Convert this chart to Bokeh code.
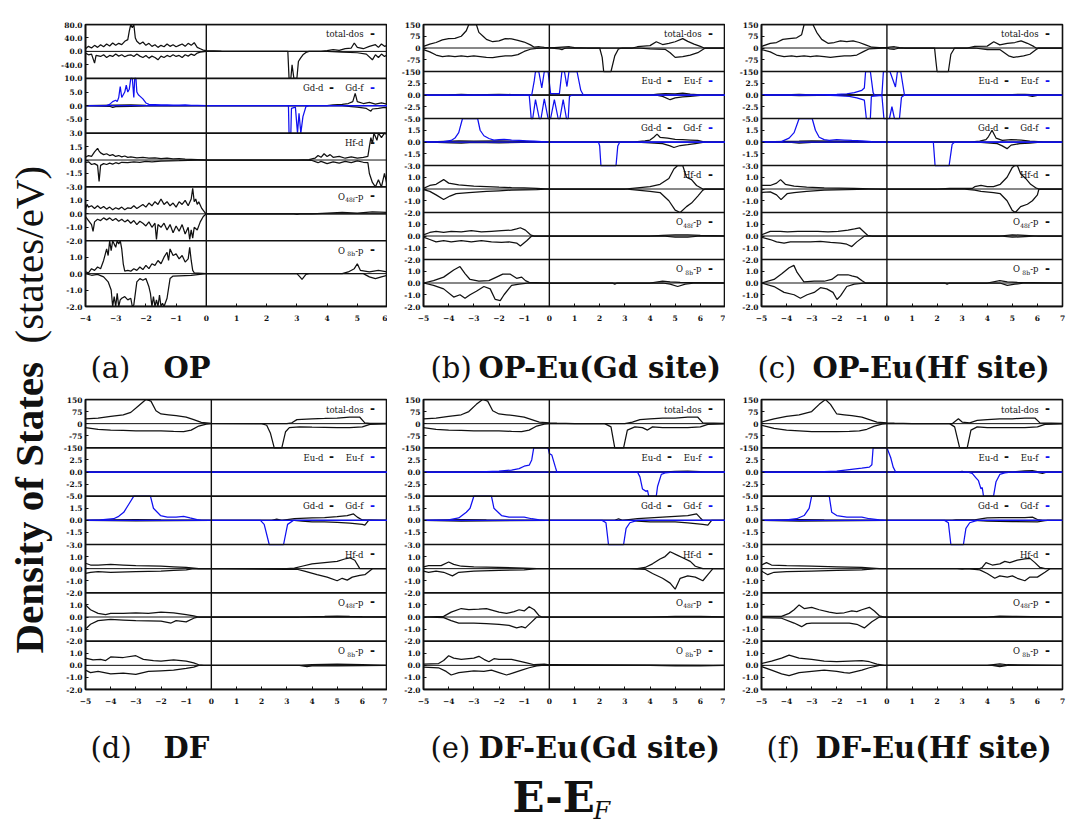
import numpy as np
from bokeh.plotting import figure
from bokeh.models import Range1d, FixedTicker, Span, Label
from bokeh.layouts import row, column
from bokeh.embed import file_html
from bokeh.resources import INLINE

# ===================== DATA: (E - E_F [eV], DOS [states/eV]) =====================
# ---- (a) OP ----
A_TOT_UP = [(-4.0, 8), (-3.9, 15), (-3.8, 10), (-3.7, 18), (-3.6, 12), (-3.5, 20), (-3.4, 14), (-3.3, 22), (-3.2, 16),
            (-3.1, 25), (-3.0, 18), (-2.9, 24), (-2.8, 20), (-2.7, 30), (-2.6, 35), (-2.55, 60), (-2.5, 95), (-2.45, 70),
            (-2.4, 95), (-2.35, 40), (-2.3, 30), (-2.2, 22), (-2.1, 28), (-2.0, 18), (-1.9, 24), (-1.8, 15), (-1.7, 20),
            (-1.6, 12), (-1.5, 18), (-1.4, 14), (-1.3, 22), (-1.2, 15), (-1.1, 20), (-1.0, 14), (-0.9, 18), (-0.8, 22),
            (-0.7, 15), (-0.6, 24), (-0.5, 18), (-0.4, 26), (-0.3, 12), (-0.2, 8), (-0.1, 4), (0.0, 2), (0.5, 0.5), (1.0, 0),
            (3.8, 0), (4.0, 2), (4.2, 5), (4.4, 3), (4.6, 8), (4.8, 10), (4.9, 25), (5.0, 12), (5.2, 8), (5.4, 15),
            (5.6, 20), (5.7, 12), (5.8, 22), (5.9, 15), (6.0, 18)]
A_TOT_DN = [(-4.0, -5), (-3.9, -10), (-3.8, -8), (-3.7, -35), (-3.65, -12), (-3.5, -15), (-3.4, -10), (-3.3, -18),
            (-3.2, -12), (-3.1, -15), (-3.0, -8), (-2.9, -14), (-2.8, -10), (-2.7, -16), (-2.6, -12), (-2.5, -10),
            (-2.4, -15), (-2.3, -8), (-2.2, -14), (-2.1, -18), (-2.0, -12), (-1.9, -20), (-1.8, -14), (-1.7, -18),
            (-1.6, -25), (-1.5, -14), (-1.4, -18), (-1.3, -12), (-1.2, -16), (-1.1, -10), (-1.0, -15), (-0.9, -12),
            (-0.8, -18), (-0.7, -10), (-0.6, -14), (-0.5, -8), (-0.4, -12), (-0.3, -5), (-0.2, -2), (0.0, 0), (2.7, 0),
            (2.74, -90), (2.8, -90), (2.84, -40), (2.9, -90), (3.0, -90), (3.05, -30), (3.12, -20), (3.2, -10),
            (3.3, -3), (3.4, 0), (4.0, 0), (4.5, -2), (5.0, -4), (5.3, -8), (5.5, -25), (5.6, -10), (5.7, -18),
            (5.8, -8), (5.9, -15), (6.0, -10)]
A_GDF_UP = [(-4.0, 0), (-3.3, 0.05), (-3.2, 0.5), (-3.1, 1.5), (-3.0, 2.0), (-2.95, 1.5), (-2.9, 3), (-2.85, 7),
            (-2.8, 3), (-2.75, 4), (-2.7, 5), (-2.65, 7.5), (-2.6, 5), (-2.55, 6), (-2.5, 11), (-2.45, 11), (-2.4, 3),
            (-2.37, 11), (-2.33, 11), (-2.3, 5), (-2.25, 4), (-2.2, 3.5), (-2.1, 2.5), (-2.0, 1.0), (-1.9, 0.5),
            (-1.7, 0.4), (-1.5, 0.3), (-1.3, 0.3), (-1.1, 0.2), (-0.9, 0.25), (-0.7, 0.3), (-0.5, 0.15), (-0.3, 0.1),
            (0.0, 0), (6.0, 0)]
A_GDF_DN = [(-4.0, 0), (2.72, 0), (2.74, -11), (2.8, -11), (2.82, -1), (2.95, -0.5), (3.02, -11), (3.07, -2.75),
            (3.13, -11), (3.2, -4), (3.3, -0.3), (3.4, 0), (6.0, 0)]
A_GDD_UP = [(-4.0, 0), (-3.5, 0.1), (-3.0, 0.2), (-2.5, 0.3), (-2.0, 0.1), (-1.0, 0.05), (0.0, 0), (4.0, 0), (4.2, 0.3),
            (4.5, 0.5), (4.7, 0.8), (4.85, 1.5), (4.93, 4.5), (5.0, 1.5), (5.2, 0.8), (5.4, 1.2), (5.6, 0.6),
            (5.8, 1.0), (6.0, 0.5)]
A_GDD_DN = [(-4.0, 0), (-3.2, -0.2), (-3.1, -0.6), (-3.0, -0.3), (-2.5, -0.2), (-2.0, -0.1), (0.0, 0), (4.5, 0),
            (4.8, -0.3), (5.0, -0.5), (5.3, -1.0), (5.45, -2.0), (5.5, -1.2), (5.7, -1.0), (5.9, -0.6), (6.0, -0.8)]
A_HF_UP = [(-4.0, 0.3), (-3.9, 0.5), (-3.8, 0.4), (-3.7, 0.9), (-3.6, 1.3), (-3.55, 1.0), (-3.5, 0.8), (-3.4, 0.6),
           (-3.3, 0.7), (-3.2, 0.5), (-3.1, 0.6), (-3.0, 0.4), (-2.9, 0.5), (-2.8, 0.35), (-2.7, 0.45), (-2.6, 0.3),
           (-2.5, 0.35), (-2.3, 0.25), (-2.1, 0.3), (-1.9, 0.2), (-1.7, 0.25), (-1.5, 0.15), (-1.3, 0.2), (-1.1, 0.12),
           (-0.9, 0.15), (-0.7, 0.1), (-0.5, 0.08), (-0.3, 0.05), (-0.1, 0.02), (0.0, 0), (3.0, 0), (3.4, 0.05),
           (3.6, 0.2), (3.7, 0.5), (3.8, 0.3), (3.9, 0.7), (4.0, 0.4), (4.1, 0.6), (4.2, 0.3), (4.4, 0.4), (4.6, 0.2),
           (4.8, 0.35), (5.0, 0.2), (5.2, 0.3), (5.35, 0.4), (5.4, 1.5), (5.45, 2.5), (5.5, 1.8), (5.55, 3.5),
           (5.65, 2.2), (5.7, 3.5), (5.8, 2.5), (5.9, 3.5), (6.0, 2.8)]
A_HF_DN = [(-4.0, -0.3), (-3.9, -0.2), (-3.8, -0.5), (-3.7, -0.4), (-3.6, -0.6), (-3.55, -2.4), (-3.5, -0.6),
           (-3.4, -0.4), (-3.3, -0.5), (-3.2, -0.35), (-3.1, -0.45), (-3.0, -0.3), (-2.9, -0.4), (-2.8, -0.25),
           (-2.6, -0.3), (-2.4, -0.2), (-2.2, -0.25), (-2.0, -0.15), (-1.8, -0.2), (-1.5, -0.12), (-1.2, -0.1),
           (-0.9, -0.08), (-0.6, -0.05), (-0.3, -0.02), (0.0, 0), (3.0, 0), (3.5, -0.05), (3.7, -0.3), (3.8, -0.15),
           (4.0, -0.4), (4.2, -0.2), (4.4, -0.35), (4.6, -0.15), (4.8, -0.3), (5.0, -0.1), (5.2, -0.25), (5.35, -0.3),
           (5.4, -1.5), (5.5, -2.5), (5.6, -3.5), (5.7, -2.2), (5.8, -3.5), (5.9, -1.5), (6.0, -3.0)]
A_O48_UP = [(-4.0, 0.3), (-3.95, 0.7), (-3.9, 0.5), (-3.8, 0.6), (-3.7, 0.4), (-3.6, 0.6), (-3.5, 0.4), (-3.4, 0.55),
            (-3.3, 0.35), (-3.2, 0.5), (-3.1, 0.3), (-3.0, 0.45), (-2.9, 0.35), (-2.8, 0.5), (-2.7, 0.3), (-2.6, 0.45),
            (-2.5, 0.4), (-2.4, 0.6), (-2.3, 0.4), (-2.2, 0.55), (-2.1, 0.7), (-2.0, 0.5), (-1.9, 0.8), (-1.8, 0.6),
            (-1.7, 0.9), (-1.6, 0.7), (-1.5, 1.1), (-1.4, 0.7), (-1.3, 0.9), (-1.2, 0.6), (-1.1, 0.8), (-1.0, 0.5),
            (-0.9, 0.9), (-0.8, 0.7), (-0.7, 1.0), (-0.6, 0.6), (-0.5, 1.1), (-0.45, 1.9), (-0.4, 0.9), (-0.35, 1.1),
            (-0.3, 0.7), (-0.25, 0.9), (-0.15, 0.4), (-0.05, 0.1), (0.0, 0), (3.5, 0), (4.0, 0.05), (4.5, 0.1),
            (5.0, 0.05), (5.5, 0.15), (6.0, 0.1)]
A_O48_DN = [(-4.0, -0.2), (-3.9, -0.5), (-3.8, -0.8), (-3.75, -1.3), (-3.7, -0.6), (-3.6, -0.4), (-3.5, -0.5),
            (-3.4, -0.3), (-3.3, -0.45), (-3.2, -0.3), (-3.1, -0.5), (-3.0, -0.35), (-2.9, -0.55), (-2.8, -0.4),
            (-2.7, -0.6), (-2.6, -0.45), (-2.5, -0.7), (-2.4, -0.5), (-2.3, -0.8), (-2.2, -0.55), (-2.1, -0.7),
            (-2.0, -0.9), (-1.9, -0.6), (-1.8, -1.0), (-1.7, -0.7), (-1.65, -1.9), (-1.6, -0.8), (-1.5, -1.0),
            (-1.4, -0.7), (-1.3, -1.2), (-1.2, -0.8), (-1.1, -1.4), (-1.0, -0.9), (-0.9, -1.3), (-0.8, -0.8),
            (-0.7, -1.5), (-0.6, -1.0), (-0.55, -1.9), (-0.5, -1.2), (-0.45, -1.8), (-0.4, -1.0), (-0.3, -1.2),
            (-0.2, -0.6), (-0.1, -0.2), (0.0, 0), (2.9, 0), (3.0, -0.05), (3.1, 0), (6.0, 0)]
A_O8_UP = [(-4.0, 0.1), (-3.9, 0.05), (-3.8, 0.3), (-3.7, 0.2), (-3.6, 0.4), (-3.5, 0.3), (-3.4, 0.8), (-3.3, 1.5),
           (-3.25, 1.1), (-3.2, 2.2), (-3.15, 1.4), (-3.1, 2.2), (-3.0, 1.6), (-2.95, 2.2), (-2.9, 1.8), (-2.85, 2.2),
           (-2.8, 1.5), (-2.75, 0.6), (-2.7, 0.15), (-2.6, 0.2), (-2.5, 0.15), (-2.4, 0.3), (-2.3, 0.2), (-2.2, 0.4),
           (-2.1, 0.25), (-2.0, 0.5), (-1.9, 0.3), (-1.8, 0.6), (-1.7, 0.5), (-1.6, 0.8), (-1.5, 0.6), (-1.4, 1.0),
           (-1.3, 1.3), (-1.25, 0.8), (-1.2, 1.5), (-1.1, 1.1), (-1.0, 1.2), (-0.9, 0.9), (-0.8, 1.1), (-0.7, 0.7),
           (-0.6, 0.9), (-0.55, 1.6), (-0.5, 0.8), (-0.45, 0.2), (-0.4, 0.05), (0.0, 0), (4.5, 0), (4.7, 0.1),
           (4.9, 0.3), (5.0, 0.6), (5.1, 0.2), (5.4, 0.1), (5.7, 0.2), (6.0, 0.1)]
A_O8_DN = [(-4.0, 0), (-3.8, -0.1), (-3.6, -0.05), (-3.4, -0.2), (-3.25, -0.5), (-3.15, -1.0), (-3.1, -2.2),
           (-3.05, -1.4), (-3.0, -2.2), (-2.95, -1.2), (-2.9, -2.2), (-2.85, -1.6), (-2.8, -1.5), (-2.7, -1.4),
           (-2.6, -1.6), (-2.5, -1.5), (-2.45, -2.2), (-2.4, -1.9), (-2.3, -0.5), (-2.2, -0.3), (-2.1, -0.4),
           (-2.0, -0.3), (-1.9, -0.8), (-1.85, -1.2), (-1.8, -2.2), (-1.75, -1.4), (-1.7, -2.2), (-1.65, -1.6),
           (-1.6, -2.2), (-1.55, -1.3), (-1.5, -2.2), (-1.45, -1.8), (-1.4, -2.2), (-1.3, -1.5), (-1.2, -0.3),
           (-1.1, -0.15), (-0.5, -0.1), (0.0, 0), (3.0, 0), (3.1, -0.2), (3.17, -0.35), (3.3, -0.05), (3.4, 0),
           (5.2, 0), (5.4, -0.2), (5.6, -0.3), (5.8, -0.2), (6.0, -0.1)]

# ---- (b) OP-Eu(Gd site) ----
B_TOT_UP = [(-5.0, 10), (-4.75, 25), (-4.5, 35), (-4.25, 52), (-4.0, 60), (-3.75, 62), (-3.5, 75), (-3.3, 110),
            (-3.2, 160), (-2.9, 160), (-2.8, 100), (-2.6, 70), (-2.5, 55), (-2.25, 40), (-2.0, 45), (-1.75, 60),
            (-1.5, 58), (-1.25, 48), (-1.0, 38), (-0.75, 20), (-0.6, 5), (-0.4, 8), (-0.2, 4), (0.0, 2), (0.2, 3),
            (0.5, 6), (0.8, 8), (1.0, 2), (1.5, 0), (3.3, 0), (3.5, 8), (4.0, 15), (4.25, 40), (4.5, 22), (4.75, 30),
            (5.0, 40), (5.3, 60), (5.5, 42), (5.75, 25), (6.0, 10), (6.15, 0), (7.0, 0)]
B_TOT_DN = [(-5.0, -10), (-4.75, -25), (-4.5, -45), (-4.25, -55), (-4.0, -50), (-3.75, -55), (-3.5, -50), (-3.25, -55),
            (-3.0, -50), (-2.75, -55), (-2.5, -60), (-2.25, -62), (-2.0, -55), (-1.75, -50), (-1.5, -50), (-1.25, -42),
            (-1.0, -22), (-0.75, -8), (-0.5, -2), (0.0, 0), (0.4, -5), (0.5, -10), (0.6, -3), (0.8, 0), (2.0, 0),
            (2.1, -60), (2.16, -160), (2.45, -160), (2.6, -50), (2.75, -5), (2.9, 0), (3.5, 0), (4.0, -5), (4.6, -8),
            (4.8, -30), (5.0, -60), (5.3, -55), (5.6, -45), (5.9, -30), (6.1, -10), (6.2, 0), (7.0, 0)]
B_EUF_UP = [(-5.0, 0), (-0.7, 0), (-0.6, 3), (-0.55, 5.5), (-0.42, 5.5), (-0.3, 1.5), (-0.2, 5.5), (-0.05, 5.5),
            (0.05, 0.3), (0.4, 0.3), (0.5, 5.5), (0.6, 5.5), (0.7, 1.8), (0.78, 5.5), (1.1, 5.5), (1.25, 1.0),
            (1.35, 0), (7.0, 0)]
B_EUF_DN = [(-5.0, 0), (-0.8, 0), (-0.72, -5.5), (-0.66, -5.5), (-0.55, -1.0), (-0.4, -5.5), (-0.33, -5.5),
            (-0.2, -0.8), (-0.05, -5.5), (0.05, -5.5), (0.2, -1.0), (0.35, -5.5), (0.42, -5.5), (0.55, -1.0),
            (0.68, -5.5), (0.75, -5.5), (0.8, -0.3), (0.9, 0), (7.0, 0)]
B_EUD_UP = [(-5.0, 0), (-4.0, 0.05), (-3.5, 0.15), (-3.0, 0.05), (-2.5, 0.1), (-2.0, 0.15), (-1.5, 0.1), (-1.0, 0.05),
            (0.0, 0), (4.0, 0), (4.3, 0.2), (4.6, 0.3), (5.0, 0.25), (5.3, 0.4), (5.6, 0.2), (6.0, 0.05), (6.2, 0),
            (7.0, 0)]
B_EUD_DN = [(-5.0, 0), (-3.5, -0.1), (-2.0, -0.1), (0.0, 0), (4.2, 0), (4.5, -0.3), (4.8, -1.0), (5.0, -0.6),
            (5.3, -0.4), (5.6, -0.3), (6.0, -0.1), (6.2, 0), (7.0, 0)]
B_GDF_UP = [(-5.0, 0.02), (-4.2, 0.05), (-3.9, 0.2), (-3.75, 0.5), (-3.6, 1.2), (-3.45, 3.5), (-2.85, 3.5),
            (-2.75, 1.5), (-2.6, 0.8), (-2.4, 0.45), (-2.2, 0.25), (-2.0, 0.3), (-1.8, 0.35), (-1.5, 0.25),
            (-1.2, 0.2), (-0.9, 0.15), (-0.6, 0.1), (-0.3, 0.05), (0.0, 0), (7.0, 0)]
B_GDF_DN = [(-5.0, 0), (1.95, 0), (2.0, -0.5), (2.05, -3.5), (2.65, -3.5), (2.72, -0.5), (2.8, 0), (7.0, 0)]
B_GDD_UP = [(-5.0, 0), (-3.9, 0.1), (-3.6, 0.15), (-3.0, 0.1), (-2.0, 0.15), (-1.5, 0.1), (0.0, 0), (3.3, 0),
            (3.8, 0.15), (4.0, 0.25), (4.15, 0.6), (4.28, 1.0), (4.4, 0.6), (4.7, 0.5), (5.0, 0.35), (5.3, 0.3),
            (5.6, 0.25), (5.9, 0.2), (6.1, 0.05), (6.3, 0), (7.0, 0)]
B_GDD_DN = [(-5.0, 0), (-3.9, -0.1), (-3.5, -0.15), (-3.0, -0.05), (-2.0, -0.1), (0.0, 0), (3.3, 0), (4.0, -0.1),
            (4.5, -0.2), (4.8, -0.5), (4.95, -0.7), (5.2, -0.45), (5.5, -0.35), (5.8, -0.2), (6.1, -0.05), (6.3, 0),
            (7.0, 0)]
B_HF_UP = [(-5.0, 0.05), (-4.75, 0.3), (-4.5, 0.4), (-4.2, 0.8), (-4.0, 0.5), (-3.6, 0.35), (-3.0, 0.25), (-2.5, 0.2),
           (-2.0, 0.15), (-1.5, 0.12), (-1.0, 0.1), (-0.5, 0.05), (0.0, 0), (3.0, 0), (3.5, 0.1), (4.0, 0.2),
           (4.4, 0.4), (4.75, 0.9), (4.95, 1.7), (5.1, 2.2), (5.3, 2.2), (5.45, 1.0), (5.65, 0.8), (5.85, 0.3),
           (6.1, 0), (7.0, 0)]
B_HF_DN = [(-5.0, -0.05), (-4.75, -0.2), (-4.5, -0.5), (-4.2, -0.9), (-3.95, -0.6), (-3.7, -0.4), (-3.2, -0.3),
           (-2.5, -0.2), (-2.0, -0.15), (-1.5, -0.1), (-0.5, -0.05), (0.0, 0), (3.0, 0), (3.5, -0.1), (4.0, -0.2),
           (4.4, -0.3), (4.75, -1.0), (5.0, -1.8), (5.2, -2.0), (5.45, -1.5), (5.65, -1.2), (5.9, -0.6), (6.1, -0.1),
           (6.2, 0), (7.0, 0)]
B_O48_UP = [(-5.0, 0.1), (-4.75, 0.3), (-4.5, 0.4), (-4.2, 0.3), (-3.9, 0.4), (-3.5, 0.35), (-3.1, 0.45), (-2.7, 0.35),
            (-2.3, 0.4), (-1.9, 0.45), (-1.5, 0.5), (-1.3, 0.6), (-1.15, 0.7), (-0.95, 0.5), (-0.75, 0.1), (-0.6, 0),
            (0.0, 0), (4.0, 0), (4.5, 0.05), (5.0, 0.1), (5.5, 0.1), (6.0, 0.05), (7.0, 0)]
B_O48_DN = [(-5.0, -0.1), (-4.75, -0.3), (-4.5, -0.5), (-4.2, -0.4), (-3.9, -0.5), (-3.5, -0.4), (-3.1, -0.5),
            (-2.7, -0.4), (-2.3, -0.5), (-1.9, -0.55), (-1.6, -0.5), (-1.3, -0.6), (-1.15, -0.85), (-0.9, -0.4),
            (-0.7, 0), (0.0, 0), (4.5, 0), (5.0, -0.1), (5.5, -0.1), (6.0, 0), (7.0, 0)]
B_O8_UP = [(-5.0, 0), (-4.6, 0.2), (-4.2, 0.5), (-3.8, 1.1), (-3.55, 1.4), (-3.35, 0.8), (-3.15, 0.3), (-2.8, 0.15),
           (-2.4, 0.2), (-2.1, 0.5), (-1.85, 0.75), (-1.55, 0.75), (-1.3, 0.4), (-1.1, 0.5), (-0.95, 0.2),
           (-0.8, 0.05), (0.0, 0), (4.0, 0), (4.5, 0.15), (4.8, 0.1), (5.2, 0.05), (7.0, 0)]
B_O8_DN = [(-5.0, 0), (-4.6, -0.2), (-4.2, -0.5), (-3.8, -1.2), (-3.55, -1.0), (-3.35, -1.3), (-3.15, -1.0),
           (-2.9, -0.7), (-2.6, -0.3), (-2.35, -0.5), (-2.15, -1.4), (-1.95, -1.5), (-1.8, -1.0), (-1.5, -0.2),
           (-1.2, -0.1), (-0.8, 0), (0.0, 0), (2.5, 0), (2.6, -0.1), (2.7, 0), (4.5, 0), (4.8, -0.1), (5.1, -0.3),
           (5.4, -0.1), (5.8, 0), (7.0, 0)]

# ---- (c) OP-Eu(Hf site) ----
C_TOT_UP = [(-5.0, 10), (-4.65, 30), (-4.4, 35), (-4.15, 55), (-3.9, 60), (-3.6, 65), (-3.4, 85), (-3.3, 160),
            (-2.95, 160), (-2.8, 100), (-2.6, 55), (-2.35, 30), (-2.1, 35), (-1.85, 45), (-1.6, 40), (-1.35, 45),
            (-1.1, 35), (-0.85, 20), (-0.6, 5), (-0.3, 3), (0.0, 2), (0.1, 5), (0.3, 8), (0.5, 2), (0.7, 0), (3.2, 0),
            (3.5, 10), (4.0, 12), (4.26, 40), (4.5, 20), (4.8, 30), (5.1, 35), (5.35, 45), (5.6, 30), (5.85, 10),
            (5.95, 0), (7.0, 0)]
C_TOT_DN = [(-5.0, -10), (-4.65, -25), (-4.4, -45), (-4.1, -55), (-3.8, -50), (-3.6, -55), (-3.3, -50), (-3.05, -55),
            (-2.8, -50), (-2.5, -55), (-2.25, -60), (-2.0, -55), (-1.7, -50), (-1.45, -50), (-1.2, -45), (-0.9, -20),
            (-0.7, -5), (0.0, 0), (0.1, -5), (0.3, -8), (0.5, 0), (1.9, 0), (1.95, -80), (2.0, -160), (2.45, -160),
            (2.55, -40), (2.7, 0), (3.5, 0), (4.0, -10), (4.5, -10), (4.85, -50), (5.05, -60), (5.45, -50),
            (5.7, -40), (5.95, -10), (6.05, 0), (7.0, 0)]
C_EUF_UP = [(-5.0, 0), (-3.0, 0.05), (-2.0, 0.15), (-1.6, 0.25), (-1.3, 0.5), (-1.0, 1.0), (-0.9, 1.5), (-0.85, 5.5),
            (-0.66, 5.5), (-0.55, 0.5), (-0.5, 0), (-0.2, 0), (-0.14, 5.5), (0.12, 5.5), (0.34, 1.7), (0.42, 5.5),
            (0.55, 5.5), (0.7, 0), (7.0, 0)]
C_EUF_DN = [(-5.0, 0), (-2.5, -0.05), (-2.0, -0.15), (-1.5, -0.3), (-1.2, -0.6), (-0.9, -1.1), (-0.82, -5.5),
            (-0.66, -5.5), (-0.62, -0.3), (-0.2, -0.1), (-0.12, -5.5), (0.1, -5.5), (0.2, -2.5), (0.3, -5.5),
            (0.5, -5.5), (0.58, -0.5), (0.7, 0), (7.0, 0)]
C_EUD_UP = [(-5.0, 0), (-3.8, 0.1), (-3.5, 0.15), (-3.0, 0.05), (-2.0, 0.1), (0.0, 0), (3.5, 0), (4.0, 0.1),
            (4.5, 0.05), (5.0, 0.1), (5.5, 0.15), (6.0, 0.05), (7.0, 0)]
C_EUD_DN = [(-5.0, 0), (-3.8, -0.1), (-3.5, -0.15), (-2.0, -0.05), (0.0, 0), (5.5, 0), (5.8, -0.3), (6.0, -0.1),
            (6.2, 0), (7.0, 0)]
C_GDF_UP = [(-5.0, 0.02), (-4.2, 0.05), (-4.1, 0.2), (-3.9, 0.5), (-3.7, 1.2), (-3.5, 3.5), (-2.98, 3.5),
            (-2.85, 1.5), (-2.7, 0.6), (-2.5, 0.3), (-2.3, 0.2), (-2.0, 0.3), (-1.7, 0.25), (-1.4, 0.2), (-1.0, 0.15),
            (-0.6, 0.05), (-0.2, 0), (7.0, 0)]
C_GDF_DN = [(-5.0, 0), (1.85, 0), (1.92, -3.5), (2.48, -3.5), (2.6, -0.3), (2.7, 0), (7.0, 0)]
C_GDD_UP = [(-5.0, 0), (-3.5, 0.1), (-3.0, 0.15), (-2.0, 0.1), (0.0, 0), (3.3, 0), (3.7, 0.1), (3.95, 0.3),
            (4.05, 0.7), (4.19, 1.5), (4.35, 0.5), (4.6, 0.2), (4.95, 0.3), (5.35, 0.25), (5.7, 0.1), (6.2, 0.02),
            (7.0, 0)]
C_GDD_DN = [(-5.0, 0), (-3.8, -0.05), (-3.5, -0.15), (-3.0, -0.05), (0.0, 0), (3.5, 0), (4.0, -0.1), (4.4, -0.2),
            (4.6, -0.5), (4.79, -0.85), (4.95, -0.4), (5.3, -0.2), (5.7, -0.15), (6.0, -0.05), (6.2, 0), (7.0, 0)]
C_HF_UP = [(-5.0, 0.3), (-4.65, 0.3), (-4.4, 0.5), (-4.24, 0.8), (-4.05, 0.4), (-3.7, 0.25), (-3.2, 0.15), (-2.5, 0.1),
           (-1.3, 0.05), (-0.3, 0), (0.0, 0), (2.0, 0), (2.5, 0.05), (3.4, 0.05), (3.5, 0.2), (3.75, 0.3), (4.0, 0.2),
           (4.25, 0.2), (4.52, 0.4), (4.79, 1.0), (4.99, 1.8), (5.1, 2.2), (5.2, 2.2), (5.33, 1.3), (5.53, 0.9),
           (5.73, 0.4), (5.93, 0.1), (6.06, 0), (7.0, 0)]
C_HF_DN = [(-5.0, -0.3), (-4.65, -0.25), (-4.4, -0.5), (-4.22, -0.9), (-3.98, -0.4), (-3.7, -0.3), (-3.2, -0.2),
           (-2.5, -0.1), (-0.3, 0), (0.0, 0), (3.0, 0), (3.5, -0.1), (3.75, -0.2), (4.25, -0.3), (4.52, -0.4),
           (4.79, -1.0), (4.99, -1.8), (5.12, -2.0), (5.33, -1.5), (5.6, -1.3), (5.8, -1.0), (6.0, -0.5), (6.06, 0),
           (7.0, 0)]
C_O48_UP = [(-5.0, 0.1), (-4.65, 0.4), (-4.25, 0.4), (-3.97, 0.35), (-3.55, 0.4), (-3.15, 0.4), (-2.75, 0.4),
            (-2.35, 0.35), (-1.95, 0.4), (-1.55, 0.5), (-1.29, 0.6), (-1.09, 0.7), (-0.89, 0.3), (-0.76, 0.05),
            (-0.6, 0), (0.0, 0), (4.5, 0), (5.0, 0.1), (5.5, 0.05), (6.0, 0), (7.0, 0)]
C_O48_DN = [(-5.0, -0.1), (-4.65, -0.3), (-4.4, -0.5), (-4.1, -0.6), (-3.85, -0.5), (-3.45, -0.5), (-3.05, -0.5),
            (-2.65, -0.45), (-2.25, -0.55), (-1.85, -0.6), (-1.6, -0.7), (-1.4, -0.9), (-1.2, -0.5), (-0.89, 0),
            (0.0, 0), (4.5, 0), (5.0, -0.1), (5.5, -0.05), (6.0, 0), (7.0, 0)]
C_O8_UP = [(-5.0, 0), (-4.5, 0.3), (-4.18, 0.8), (-3.9, 1.3), (-3.71, 1.5), (-3.58, 0.9), (-3.31, 0.1), (-2.9, 0.15),
           (-2.5, 0.15), (-2.2, 0.3), (-1.95, 0.7), (-1.55, 0.7), (-1.4, 0.6), (-1.19, 0.5), (-0.99, 0.2), (-0.85, 0),
           (0.0, 0), (4.0, 0), (4.5, 0.2), (4.8, 0.1), (5.2, 0.05), (7.0, 0)]
C_O8_DN = [(-5.0, 0), (-4.5, -0.3), (-4.1, -0.8), (-3.7, -1.0), (-3.45, -1.3), (-3.18, -1.0), (-2.9, -0.8),
           (-2.65, -0.4), (-2.4, -0.5), (-2.15, -0.8), (-1.99, -1.4), (-1.85, -1.1), (-1.6, -0.3), (-1.3, -0.1),
           (-0.85, 0), (0.0, 0), (2.3, 0), (2.4, -0.1), (2.5, 0), (4.5, 0), (4.8, -0.2), (5.1, -0.1), (5.5, 0),
           (7.0, 0)]

# ---- (d) DF ----
D_TOT_UP = [(-5.0, 30), (-4.5, 35), (-4.0, 45), (-3.5, 55), (-3.2, 70), (-2.9, 110), (-2.6, 150), (-2.4, 140),
            (-2.2, 80), (-2.0, 60), (-1.7, 55), (-1.4, 50), (-1.0, 40), (-0.7, 25), (-0.4, 8), (0.0, 2), (3.0, 0),
            (3.2, 5), (3.4, 25), (4.0, 30), (4.5, 32), (5.0, 35), (5.5, 40), (5.9, 40), (6.1, 5), (6.3, 2), (7.0, 2)]
D_TOT_DN = [(-5.0, -25), (-4.5, -35), (-4.0, -40), (-3.5, -42), (-3.0, -45), (-2.5, -45), (-2.0, -45), (-1.5, -48),
            (-1.1, -50), (-0.8, -40), (-0.5, -15), (-0.2, -3), (0.0, 0), (2.0, 0), (2.2, -10), (2.35, -60),
            (2.5, -160), (2.8, -160), (2.95, -50), (3.1, -25), (3.5, -20), (4.0, -22), (5.0, -25), (5.5, -25),
            (6.0, -20), (6.3, -5), (7.0, -2)]
D_EUF_UP = [(-5.0, 0), (7.0, 0)]
D_EUF_DN = [(-5.0, 0), (7.0, 0)]
D_EUD_UP = [(-5.0, 0), (7.0, 0)]
D_EUD_DN = [(-5.0, 0), (7.0, 0)]
D_GDF_UP = [(-5.0, 0), (-4.4, 0.05), (-3.88, 0.2), (-3.68, 0.5), (-3.48, 1.0), (-3.28, 2.0), (-3.08, 3.5),
            (-2.42, 3.5), (-2.3, 1.5), (-2.02, 0.6), (-1.75, 0.4), (-1.4, 0.4), (-1.1, 0.5), (-0.85, 0.3),
            (-0.57, 0.1), (-0.4, 0), (7.0, 0)]
D_GDF_DN = [(-5.0, 0), (1.95, 0), (2.1, -0.5), (2.3, -3.5), (2.87, -3.5), (3.03, -0.5), (3.27, 0), (7.0, 0)]
D_GDD_UP = [(-5.0, 0), (-4.0, 0.05), (-3.0, 0.1), (-2.0, 0.05), (0.0, 0), (2.4, 0), (2.6, 0.15), (2.8, 0), (3.3, 0.2),
            (4.0, 0.3), (4.5, 0.35), (5.0, 0.45), (5.4, 0.6), (5.65, 0.8), (5.8, 0.4), (6.0, 0.05), (7.0, 0)]
D_GDD_DN = [(-5.0, 0), (-3.0, -0.05), (0.0, 0), (3.3, 0), (3.6, -0.1), (4.0, -0.2), (4.5, -0.2), (5.0, -0.25),
            (5.5, -0.35), (6.0, -0.5), (6.1, -0.6), (6.25, 0), (7.0, 0)]
D_HF_UP = [(-5.0, 0.45), (-4.8, 0.3), (-4.5, 0.3), (-4.0, 0.35), (-3.5, 0.3), (-3.0, 0.25), (-2.0, 0.2), (-1.5, 0.15),
           (-1.0, 0.1), (-0.7, 0.05), (-0.5, 0), (3.0, 0), (3.3, 0.05), (3.6, 0.2), (4.0, 0.4), (4.5, 0.5), (5.0, 0.6),
           (5.3, 0.8), (5.5, 0.9), (5.7, 0.7), (5.9, 0), (7.0, 0)]
D_HF_DN = [(-5.0, -0.4), (-4.8, -0.3), (-4.5, -0.25), (-4.0, -0.3), (-3.0, -0.25), (-2.0, -0.2), (-1.5, -0.15),
           (-1.0, -0.1), (-0.7, 0), (3.0, -0.05), (3.4, -0.05), (3.7, -0.2), (4.2, -0.5), (4.6, -0.7), (5.0, -1.0),
           (5.2, -0.8), (5.4, -0.95), (5.6, -0.7), (5.9, -0.55), (6.1, -0.5), (6.4, 0), (7.0, 0)]
D_O48_UP = [(-5.0, 1.0), (-4.8, 0.6), (-4.5, 0.3), (-4.2, 0.2), (-4.0, 0.3), (-3.5, 0.3), (-3.0, 0.35), (-2.5, 0.3),
            (-2.0, 0.4), (-1.5, 0.35), (-1.0, 0.2), (-0.7, 0.1), (-0.5, 0), (3.5, 0), (4.5, 0.05), (5.0, 0.08),
            (5.5, 0.05), (6.0, 0.03), (7.0, 0)]
D_O48_DN = [(-5.0, -1.0), (-4.8, -0.6), (-4.5, -0.3), (-4.0, -0.2), (-3.5, -0.25), (-3.0, -0.3), (-2.0, -0.35),
            (-1.6, -0.5), (-1.4, -0.3), (-1.0, -0.4), (-0.7, -0.1), (-0.5, 0), (7.0, 0)]
D_O8_UP = [(-5.0, 0.6), (-4.7, 0.45), (-4.4, 0.5), (-4.2, 0.4), (-4.0, 0.7), (-3.5, 0.65), (-3.0, 0.8), (-2.7, 0.5),
           (-2.3, 0.4), (-2.0, 0.35), (-1.5, 0.45), (-1.0, 0.35), (-0.7, 0.2), (-0.5, 0.05), (-0.3, 0), (3.5, 0),
           (4.0, 0.05), (5.0, 0.1), (6.0, 0.05), (7.0, 0)]
D_O8_DN = [(-5.0, -0.4), (-4.8, -0.6), (-4.5, -0.5), (-4.0, -0.7), (-3.5, -0.65), (-3.0, -0.75), (-2.5, -0.5),
           (-2.0, -0.45), (-1.5, -0.4), (-1.0, -0.25), (-0.7, -0.15), (-0.5, 0), (3.5, 0), (3.8, -0.1), (4.0, -0.05),
           (5.0, -0.05), (7.0, 0)]

# ---- (e) DF-Eu(Gd site) ----
E_TOT_UP = [(-5.0, 30), (-4.5, 35), (-4.0, 45), (-3.5, 55), (-3.2, 75), (-2.9, 120), (-2.65, 150), (-2.45, 140),
            (-2.25, 80), (-2.0, 60), (-1.7, 55), (-1.4, 50), (-1.0, 40), (-0.7, 25), (-0.4, 10), (0.0, 5), (0.3, 3),
            (1.0, 0), (3.0, 0), (3.3, 10), (3.6, 25), (4.0, 30), (4.5, 35), (5.0, 35), (5.5, 40), (5.9, 40), (6.1, 5),
            (7.0, 2)]
E_TOT_DN = [(-5.0, -25), (-4.5, -35), (-4.0, -40), (-3.5, -42), (-3.0, -45), (-2.5, -45), (-2.0, -45), (-1.5, -48),
            (-1.1, -50), (-0.8, -40), (-0.5, -15), (-0.2, -3), (0.0, 0), (2.2, 0), (2.45, -20), (2.6, -160),
            (2.95, -160), (3.1, -40), (3.4, -20), (3.7, -25), (3.9, -40), (4.1, -20), (4.5, -25), (5.0, -25),
            (5.5, -25), (6.0, -20), (6.3, -5), (7.0, -2)]
E_EUF_UP = [(-5.0, 0), (-3.0, 0), (-2.5, 0.1), (-2.0, 0.2), (-1.5, 0.4), (-1.2, 0.7), (-1.0, 1.2), (-0.8, 1.4),
            (-0.7, 2.5), (-0.62, 5.5), (-0.05, 5.5), (0.0, 3.8), (0.1, 3.5), (0.24, 1.0), (0.3, 0), (7.0, 0)]
E_EUF_DN = [(-5.0, 0), (3.5, 0), (3.6, -1.0), (3.7, -3.5), (3.85, -4.0), (3.9, -3.8), (3.95, -5.5), (4.25, -5.5),
            (4.3, -3.0), (4.45, -0.5), (4.6, -0.2), (5.0, 0), (7.0, 0)]
E_EUD_UP = [(-5.0, 0), (-2.0, 0.05), (0.0, 0), (4.5, 0), (5.0, 0.15), (5.5, 0.2), (6.0, 0.1), (6.2, 0), (7.0, 0)]
E_EUD_DN = [(-5.0, 0), (0.0, 0), (4.5, 0), (5.0, -0.05), (5.5, -0.1), (6.0, -0.05), (7.0, 0)]
E_GDF_UP = [(-5.0, 0), (-4.0, 0.05), (-3.6, 0.3), (-3.3, 1.0), (-3.15, 1.5), (-3.0, 3.5), (-2.3, 3.5), (-2.2, 1.5),
            (-1.9, 0.6), (-1.6, 0.4), (-1.3, 0.4), (-1.0, 0.4), (-0.7, 0.2), (-0.4, 0.05), (-0.2, 0), (7.0, 0)]
E_GDF_DN = [(-5.0, 0), (2.1, 0), (2.25, -0.3), (2.35, -3.5), (2.95, -3.5), (3.05, -1.0), (3.2, -0.3), (3.5, 0),
            (7.0, 0)]
E_GDD_UP = [(-5.0, 0), (-3.5, 0.1), (-2.5, 0.05), (0.0, 0), (2.6, 0), (2.75, 0.2), (2.9, 0), (3.5, 0.2), (4.0, 0.3),
            (4.5, 0.4), (5.0, 0.5), (5.5, 0.6), (5.85, 0.8), (6.0, 0.3), (6.1, 0), (7.0, 0)]
E_GDD_DN = [(-5.0, 0), (-3.5, -0.1), (0.0, 0), (3.3, 0), (3.5, -0.1), (4.0, -0.2), (5.0, -0.2), (5.5, -0.3),
            (6.1, -0.5), (6.3, -0.6), (6.45, 0), (7.0, 0)]
E_HF_UP = [(-5.0, 0.15), (-4.8, 0.25), (-4.3, 0.25), (-4.0, 0.55), (-3.8, 0.35), (-3.5, 0.2), (-3.0, 0.15),
           (-2.0, 0.1), (-1.0, 0.05), (-0.5, 0), (3.5, 0), (3.8, 0.1), (4.1, 0.4), (4.4, 0.8), (4.6, 1.0), (4.8, 1.4),
           (5.1, 1.1), (5.3, 0.9), (5.6, 0.6), (5.8, 0.2), (6.1, 0), (7.0, 0)]
E_HF_DN = [(-5.0, -0.2), (-4.8, -0.3), (-4.5, -0.2), (-4.2, -0.3), (-3.85, -0.6), (-3.6, -0.3), (-3.0, -0.2),
           (-2.0, -0.15), (-1.0, -0.1), (-0.5, 0), (3.2, 0), (3.8, -0.05), (4.1, -0.4), (4.5, -0.8), (4.8, -1.2),
           (5.0, -1.7), (5.2, -0.8), (5.5, -0.6), (5.8, -0.7), (6.1, -1.0), (6.3, -0.5), (6.5, 0), (7.0, 0)]
E_O48_UP = [(-5.0, 0), (-4.2, 0.05), (-3.9, 0.4), (-3.5, 0.7), (-3.2, 0.6), (-2.8, 0.65), (-2.5, 0.7), (-2.0, 0.4),
            (-1.7, 0.3), (-1.4, 0.45), (-1.2, 0.6), (-1.0, 0.5), (-0.8, 0.85), (-0.6, 0.6), (-0.4, 0.1), (-0.3, 0),
            (4.0, 0), (5.0, 0.05), (6.0, 0.05), (7.0, 0)]
E_O48_DN = [(-5.0, 0), (-4.2, -0.05), (-3.9, -0.3), (-3.6, -0.5), (-3.0, -0.5), (-2.5, -0.55), (-2.0, -0.6),
            (-1.6, -0.7), (-1.3, -0.9), (-1.1, -0.8), (-0.95, -0.9), (-0.7, -0.4), (-0.5, 0), (7.0, 0)]
E_O8_UP = [(-5.0, 0.1), (-4.4, 0.15), (-4.2, 0.4), (-4.0, 0.8), (-3.8, 0.6), (-3.5, 0.5), (-3.0, 0.6), (-2.8, 0.75),
           (-2.6, 0.5), (-2.4, 0.3), (-2.2, 0.55), (-2.0, 0.5), (-1.5, 0.5), (-1.2, 0.35), (-0.9, 0.2), (-0.6, 0.05),
           (-0.2, 0.1), (0.0, 0.05), (7.0, 0)]
E_O8_DN = [(-5.0, -0.15), (-4.4, -0.2), (-4.1, -0.5), (-3.9, -0.8), (-3.6, -0.6), (-3.0, -0.45), (-2.6, -0.5),
           (-2.3, -0.4), (-2.0, -0.6), (-1.7, -0.8), (-1.4, -0.6), (-1.1, -0.4), (-0.8, -0.2), (-0.5, -0.05),
           (-0.3, 0), (4.0, 0), (5.0, -0.05), (6.0, -0.05), (7.0, 0)]

# ---- (f) DF-Eu(Hf site) ----
F_TOT_UP = [(-5.0, 10), (-4.5, 30), (-4.0, 45), (-3.5, 55), (-3.0, 75), (-2.7, 120), (-2.45, 150), (-2.25, 120),
            (-2.0, 60), (-1.7, 55), (-1.4, 50), (-1.0, 40), (-0.7, 25), (-0.4, 10), (0.0, 5), (0.3, 3), (1.0, 0),
            (2.6, 0), (2.85, 30), (3.0, 10), (3.3, 5), (3.6, 20), (4.0, 25), (4.5, 30), (5.0, 30), (5.5, 35),
            (5.9, 35), (6.1, 5), (7.0, 2)]
F_TOT_DN = [(-5.0, -10), (-4.5, -30), (-4.0, -40), (-3.5, -45), (-3.0, -50), (-2.5, -50), (-2.0, -50), (-1.5, -48),
            (-1.1, -45), (-0.8, -35), (-0.5, -15), (-0.2, -3), (0.0, 0), (2.5, 0), (2.7, -20), (2.9, -160),
            (3.2, -160), (3.35, -40), (3.6, -20), (4.0, -25), (5.0, -25), (5.5, -25), (6.0, -20), (6.3, -5), (7.0, -2)]
F_EUF_UP = [(-5.0, 0), (-3.0, 0), (-2.5, 0.1), (-2.0, 0.2), (-1.5, 0.5), (-1.0, 0.8), (-0.7, 1.0), (-0.6, 1.5),
            (-0.55, 5.5), (0.0, 5.5), (0.15, 3.0), (0.25, 1.0), (0.35, 0), (7.0, 0)]
F_EUF_DN = [(-5.0, 0), (3.2, 0), (3.4, -0.3), (3.55, -1.2), (3.65, -1.8), (3.75, -3.5), (3.8, -3.2), (3.85, -5.5),
            (4.25, -5.5), (4.35, -2.0), (4.5, -0.5), (4.7, -0.2), (5.0, 0), (7.0, 0)]
F_EUD_UP = [(-5.0, 0), (-2.0, 0.05), (0.0, 0), (2.8, 0), (3.0, 0.12), (3.1, 0), (5.0, 0), (5.5, 0.25), (5.8, 0.3),
            (6.0, 0.1), (6.2, 0), (7.0, 0)]
F_EUD_DN = [(-5.0, 0), (0.0, 0), (3.0, 0), (3.2, -0.1), (3.4, 0), (5.5, 0), (6.0, -0.1), (6.2, -0.3), (6.4, 0),
            (7.0, 0)]
F_GDF_UP = [(-5.0, 0), (-4.0, 0.05), (-3.6, 0.2), (-3.3, 0.6), (-3.1, 1.5), (-3.0, 3.5), (-2.3, 3.5), (-2.2, 1.0),
            (-2.0, 0.6), (-1.6, 0.4), (-1.0, 0.4), (-0.7, 0.2), (-0.3, 0.05), (-0.1, 0), (7.0, 0)]
F_GDF_DN = [(-5.0, 0), (2.3, 0), (2.45, -0.3), (2.55, -3.5), (3.05, -3.5), (3.15, -1.0), (3.3, -0.3), (3.6, 0),
            (7.0, 0)]
F_GDD_UP = [(-5.0, 0), (-3.5, 0.1), (-2.5, 0.05), (0.0, 0), (2.6, 0), (2.75, 0.05), (3.5, 0.05), (3.8, 0.2),
            (4.0, 0.3), (4.5, 0.35), (5.0, 0.35), (5.5, 0.35), (5.8, 0.4), (6.0, 0.1), (6.2, 0), (7.0, 0)]
F_GDD_DN = [(-5.0, 0), (-3.5, -0.1), (0.0, 0), (3.5, 0), (4.0, -0.1), (5.0, -0.15), (6.0, -0.2), (6.3, -0.05),
            (6.4, 0), (7.0, 0)]
F_HF_UP = [(-5.0, 0.3), (-4.8, 0.5), (-4.6, 0.3), (-4.0, 0.25), (-3.0, 0.2), (-2.0, 0.15), (-1.0, 0.1), (-0.6, 0.05),
           (-0.3, 0), (3.7, 0), (3.8, 0.1), (3.95, 0.5), (4.2, 0.3), (4.5, 0.4), (4.7, 0.6), (4.9, 0.5), (5.2, 0.7),
           (5.5, 0.8), (5.7, 0.85), (5.9, 0.5), (6.1, 0.1), (6.3, 0), (7.0, 0)]
F_HF_DN = [(-5.0, -0.2), (-4.75, -0.5), (-4.5, -0.3), (-4.0, -0.25), (-3.0, -0.2), (-2.0, -0.15), (-1.0, -0.1),
           (-0.4, 0), (2.8, 0), (3.0, -0.05), (3.2, 0), (3.7, -0.1), (4.0, -0.4), (4.3, -0.8), (4.5, -0.6),
           (4.8, -0.7), (5.0, -0.6), (5.2, -0.8), (5.5, -1.0), (5.7, -0.7), (6.0, -0.7), (6.3, -0.3), (6.5, 0),
           (7.0, 0)]
F_O48_UP = [(-5.0, 0.05), (-4.2, 0.05), (-3.9, 0.3), (-3.7, 0.6), (-3.5, 1.0), (-3.3, 0.7), (-3.0, 0.8), (-2.7, 0.6),
            (-2.3, 0.4), (-2.0, 0.3), (-1.7, 0.35), (-1.4, 0.5), (-1.2, 0.45), (-1.0, 0.6), (-0.7, 0.8), (-0.5, 0.5),
            (-0.3, 0.1), (-0.1, 0), (4.0, 0), (4.5, 0.08), (5.0, 0.05), (7.0, 0)]
F_O48_DN = [(-5.0, -0.05), (-4.2, -0.1), (-3.7, -0.5), (-3.4, -0.8), (-3.2, -0.55), (-3.0, -0.5), (-2.0, -0.5),
            (-1.5, -0.5), (-1.2, -0.6), (-0.9, -0.9), (-0.6, -0.4), (-0.3, 0), (7.0, 0)]
F_O8_UP = [(-5.0, 0.15), (-4.6, 0.35), (-4.2, 0.6), (-3.9, 0.85), (-3.5, 0.6), (-3.0, 0.5), (-2.5, 0.35), (-2.0, 0.3),
           (-1.5, 0.35), (-1.0, 0.4), (-0.7, 0.3), (-0.4, 0.1), (-0.1, 0), (4.0, 0), (4.5, 0.12), (4.8, 0.05),
           (7.0, 0)]
F_O8_DN = [(-5.0, -0.1), (-4.6, -0.4), (-4.2, -0.7), (-3.9, -0.85), (-3.5, -0.6), (-3.0, -0.5), (-2.5, -0.4),
           (-2.0, -0.5), (-1.7, -0.6), (-1.5, -0.65), (-1.0, -0.4), (-0.7, -0.2), (-0.3, 0), (4.2, 0), (4.5, -0.1),
           (4.8, 0), (7.0, 0)]

# ---- axis tick values / labels and captions ----
A_RANGES = [(-80, 80), (-10, 10), (-3, 3), (-2, 2), (-2, 2)]
A_TICKS = [[80, 40, 0, -40], [10, 5, 0, -5], [3, 1.5, 0, -1.5, -3], [1, 0, -1, -2], [1, 0, -1, -2]]
A_TICKLABELS = [["80.0", "40.0", "0.0", "-40.0"], ["10.0", "5.0", "0.0", "-5.0"],
                ["3.0", "1.5", "0.0", "-1.5", "-3.0"], ["1.0", "0.0", "-1.0", "-2.0"], ["1.0", "0.0", "-1.0", "-2.0"]]
EU_RANGES = [(-150, 150), (-5, 5), (-3, 3), (-2, 2), (-2, 2), (-2, 2)]
EU_TICKS = [[150, 75, 0, -75, -150], [2.5, 0, -2.5, -5], [1.5, 0, -1.5, -3], [1, 0, -1, -2], [1, 0, -1, -2],
            [1, 0, -1, -2]]
EU_TICKLABELS = [["150", "75", "0", "-75", "-150"], ["2.5", "0.0", "-2.5", "-5.0"], ["1.5", "0.0", "-1.5", "-3.0"],
                 ["1.0", "0.0", "-1.0", "-2.0"], ["1.0", "0.0", "-1.0", "-2.0"], ["1.0", "0.0", "-1.0", "-2.0"]]
CAPTIONS = [("(a)", "OP"), ("(b)", "OP-Eu(Gd site)"), ("(c)", "OP-Eu(Hf site)"),
            ("(d)", "DF"), ("(e)", "DF-Eu(Gd site)"), ("(f)", "DF-Eu(Hf site)")]

# ===================== STYLE / BUILD =====================
SERIF = "DejaVu Serif"
TIMES = "Liberation Serif"
BLUE = "#1010f0"
INK = "#111111"
YLAB_W = 58


def xy(pairs):
    a = np.array(pairs, dtype=float)
    return a[:, 0], a[:, 1]


def add_legend(p, fr, y, items):
    if len(items) == 1:
        pos = [(fr - 24, fr - 15)]
    else:
        pos = [(fr - 64, fr - 56), (fr - 24, fr - 15)]
    for (text, color), (tx, dx) in zip(items, pos):
        p.add_layout(Label(x=dx, y=y - 1, x_range_name="px", text="-", text_color=color, text_font="DejaVu Sans",
                           text_font_style="bold", text_font_size="12px", text_align="center",
                           text_baseline="middle"))
        if "_" in text:
            main, sub, tail = text.split("_")
            p.add_layout(Label(x=tx, y=y, x_range_name="px", text=tail, text_font=SERIF, text_font_size="8.5px",
                               text_align="right", text_baseline="middle", text_color=INK))
            p.add_layout(Label(x=tx - 8.5, y=y + 3, x_range_name="px", text=sub, text_font=SERIF,
                               text_font_size="6px", text_align="right", text_baseline="middle", text_color=INK))
            p.add_layout(Label(x=tx - 18.5, y=y, x_range_name="px", text=main, text_font=SERIF,
                               text_font_size="8.5px", text_align="right", text_baseline="middle", text_color=INK))
        else:
            p.add_layout(Label(x=tx, y=y, x_range_name="px", text=text, text_font=SERIF, text_font_size="8.5px",
                               text_align="right", text_baseline="middle", text_color=INK))


def make_panel(xlo, xhi, fl, fr, ft, fb, bl, br, bt, bb, rel, bands):
    W = fr - fl
    H = fb - ft
    p = figure(width=bl + W + br, height=bt + H + bb, x_range=Range1d(xlo, xhi), y_range=Range1d(fb, ft),
               output_backend="svg", toolbar_location=None, min_border_left=bl, min_border_right=br,
               min_border_top=bt, min_border_bottom=bb)
    p.extra_x_ranges = {"px": Range1d(fl, fr)}
    p.grid.visible = False
    p.outline_line_color = INK
    p.outline_line_width = 1.6
    p.background_fill_color = "white"
    p.border_fill_color = "white"
    ticks, overrides, extra = [], {}, {}
    for k, b in enumerate(bands):
        ytop, ybot = ft + rel[k], ft + rel[k + 1]
        lo, hi = b["range"]
        s = (hi - lo) / (ybot - ytop)
        extra["b%d" % k] = Range1d(lo + s * (ybot - fb), lo + s * (ybot - ft))
        for v, t in zip(b["ticks"], b["labels"]):
            yy = round(ybot - (v - lo) / s, 3)
            ticks.append(yy)
            overrides[yy] = t
    p.extra_y_ranges = extra
    for k, b in enumerate(bands):
        lo, hi = b["range"]
        p.add_layout(Span(location=0, dimension="width", y_range_name="b%d" % k, line_color=INK,
                          line_width=1.0, level="underlay"))
        for pairs, color in b["curves"]:
            x, y = xy(pairs)
            p.line(x, np.clip(y, lo, hi), y_range_name="b%d" % k, line_color=color, line_width=1.25)
        add_legend(p, fr, ft + rel[k] + 10, b["legend"])
    for r in rel:
        p.add_layout(Span(location=ft + r, dimension="width", line_color=INK, line_width=1.7))
    p.add_layout(Span(location=0, dimension="height", line_color=INK, line_width=1.4))
    ax = p.yaxis[0]
    ax.ticker = FixedTicker(ticks=ticks)
    ax.major_label_overrides = overrides
    xa = p.xaxis[0]
    xa.ticker = FixedTicker(ticks=list(range(xlo, xhi + 1)))
    for a in (ax, xa):
        a.major_tick_in = 3
        a.major_tick_out = 0
        a.minor_tick_line_color = None
        a.axis_line_width = 1.6
        a.axis_line_color = INK
        a.major_tick_line_color = INK
        a.major_label_text_font = SERIF
        a.major_label_text_font_style = "bold"
        a.major_label_text_color = INK
    ax.major_label_text_font_size = "7.5px"
    ax.major_label_standoff = 3
    xa.major_label_text_font_size = "7.5px"
    xa.major_label_standoff = 8
    return p


def bands_eu(tot_up, tot_dn, euf_up, euf_dn, eud_up, eud_dn, gdf_up, gdf_dn, gdd_up, gdd_dn,
             hf_up, hf_dn, o48_up, o48_dn, o8_up, o8_dn):
    curves = [[(tot_up, INK), (tot_dn, INK)],
              [(eud_up, INK), (eud_dn, INK), (euf_up, BLUE), (euf_dn, BLUE)],
              [(gdd_up, INK), (gdd_dn, INK), (gdf_up, BLUE), (gdf_dn, BLUE)],
              [(hf_up, INK), (hf_dn, INK)], [(o48_up, INK), (o48_dn, INK)], [(o8_up, INK), (o8_dn, INK)]]
    legends = [[("total-dos", INK)], [("Eu-d", INK), ("Eu-f", BLUE)], [("Gd-d", INK), ("Gd-f", BLUE)],
               [("Hf-d", INK)], [("O_48f_-p", INK)], [("O_8b_-p", INK)]]
    return [dict(range=EU_RANGES[k], ticks=EU_TICKS[k], labels=EU_TICKLABELS[k], curves=curves[k],
                 legend=legends[k]) for k in range(6)]


a_curves = [[(A_TOT_UP, INK), (A_TOT_DN, INK)],
            [(A_GDD_UP, INK), (A_GDD_DN, INK), (A_GDF_UP, BLUE), (A_GDF_DN, BLUE)],
            [(A_HF_UP, INK), (A_HF_DN, INK)], [(A_O48_UP, INK), (A_O48_DN, INK)], [(A_O8_UP, INK), (A_O8_DN, INK)]]
a_legends = [[("total-dos", INK)], [("Gd-d", INK), ("Gd-f", BLUE)], [("Hf-d", INK)], [("O_48f_-p", INK)],
             [("O_8b_-p", INK)]]
bands_a = [dict(range=A_RANGES[k], ticks=A_TICKS[k], labels=A_TICKLABELS[k], curves=a_curves[k],
                legend=a_legends[k]) for k in range(5)]

REL_A = [0, 54, 109, 163, 217, 283]
REL_1 = [0, 48, 96, 144, 192, 240, 288]
REL_2 = [0, 48.3, 96.7, 145, 193.3, 241.7, 290]
BL_A = 85 - YLAB_W

pa = make_panel(-4, 6, 85, 387, 24, 307, BL_A, 0, 24, 23, REL_A, bands_a)
pb = make_panel(-5, 7, 423, 725, 18, 306, 36, 0, 18, 24, REL_1,
                bands_eu(B_TOT_UP, B_TOT_DN, B_EUF_UP, B_EUF_DN, B_EUD_UP, B_EUD_DN, B_GDF_UP, B_GDF_DN,
                         B_GDD_UP, B_GDD_DN, B_HF_UP, B_HF_DN, B_O48_UP, B_O48_DN, B_O8_UP, B_O8_DN))
pc = make_panel(-5, 7, 761, 1062, 18, 306, 36, 15, 18, 24, REL_1,
                bands_eu(C_TOT_UP, C_TOT_DN, C_EUF_UP, C_EUF_DN, C_EUD_UP, C_EUD_DN, C_GDF_UP, C_GDF_DN,
                         C_GDD_UP, C_GDD_DN, C_HF_UP, C_HF_DN, C_O48_UP, C_O48_DN, C_O8_UP, C_O8_DN))
pd_ = make_panel(-5, 7, 85, 387, 399, 689, BL_A, 0, 10, 24, REL_2,
                 bands_eu(D_TOT_UP, D_TOT_DN, D_EUF_UP, D_EUF_DN, D_EUD_UP, D_EUD_DN, D_GDF_UP, D_GDF_DN,
                          D_GDD_UP, D_GDD_DN, D_HF_UP, D_HF_DN, D_O48_UP, D_O48_DN, D_O8_UP, D_O8_DN))
pe = make_panel(-5, 7, 423, 725, 399, 689, 36, 0, 10, 24, REL_2,
                bands_eu(E_TOT_UP, E_TOT_DN, E_EUF_UP, E_EUF_DN, E_EUD_UP, E_EUD_DN, E_GDF_UP, E_GDF_DN,
                         E_GDD_UP, E_GDD_DN, E_HF_UP, E_HF_DN, E_O48_UP, E_O48_DN, E_O8_UP, E_O8_DN))
pf = make_panel(-5, 7, 761, 1062, 399, 689, 36, 15, 10, 24, REL_2,
                bands_eu(F_TOT_UP, F_TOT_DN, F_EUF_UP, F_EUF_DN, F_EUD_UP, F_EUD_DN, F_GDF_UP, F_GDF_DN,
                         F_GDD_UP, F_GDD_DN, F_HF_UP, F_HF_DN, F_O48_UP, F_O48_DN, F_O8_UP, F_O8_DN))


def blank(w, h, xr, yr):
    f = figure(width=w, height=h, x_range=Range1d(*xr), y_range=Range1d(*yr), x_axis_type=None,
               y_axis_type=None, output_backend="svg", toolbar_location=None, min_border=0)
    f.outline_line_color = None
    f.background_fill_color = "white"
    f.border_fill_color = "white"
    return f


ylab = blank(YLAB_W, 838, (0, YLAB_W), (838, 0))
ylab.add_layout(Label(x=28, y=653, text="Density of States", angle=np.pi / 2, text_font=TIMES,
                      text_font_style="bold", text_font_size="41px", text_align="left",
                      text_baseline="middle", text_color=INK))
ylab.add_layout(Label(x=28, y=343, text="(states/eV)", angle=np.pi / 2, text_font=TIMES,
                      text_font_size="41px", text_align="left", text_baseline="middle", text_color=INK))

CW = 1077 - YLAB_W
cap1 = blank(CW, 59, (YLAB_W, 1077), (389, 330))
cap2 = blank(CW, 125, (YLAB_W, 1077), (838, 713))
CAP_X = [(90, 163), (430, 478), (757, 812)]
for i, (lab, name) in enumerate(CAPTIONS):
    f = cap1 if i < 3 else cap2
    yc = 367 if i < 3 else 747
    x1, x2 = CAP_X[i % 3]
    if i == 5:
        x1, x2 = 766, 815
    f.add_layout(Label(x=x1, y=yc, text=lab, text_font=SERIF, text_font_size="29px", text_align="left",
                       text_baseline="middle", text_color=INK))
    f.add_layout(Label(x=x2, y=yc, text=name, text_font=SERIF, text_font_style="bold", text_font_size="29px",
                       text_align="left", text_baseline="middle", text_color=INK))
cap2.add_layout(Label(x=512, y=797, text="E-E", text_font=SERIF, text_font_style="bold", text_font_size="42px",
                      text_align="left", text_baseline="middle", text_color=INK))
cap2.add_layout(Label(x=593, y=810, text="F", text_font=SERIF, text_font_style="italic", text_font_size="24px",
                      text_align="left", text_baseline="middle", text_color=INK))

layout = row(ylab, column(row(pa, pb, pc), cap1, row(pd_, pe, pf), cap2))

open("out.html", "w").write(file_html(layout, INLINE, title="DOS"))
